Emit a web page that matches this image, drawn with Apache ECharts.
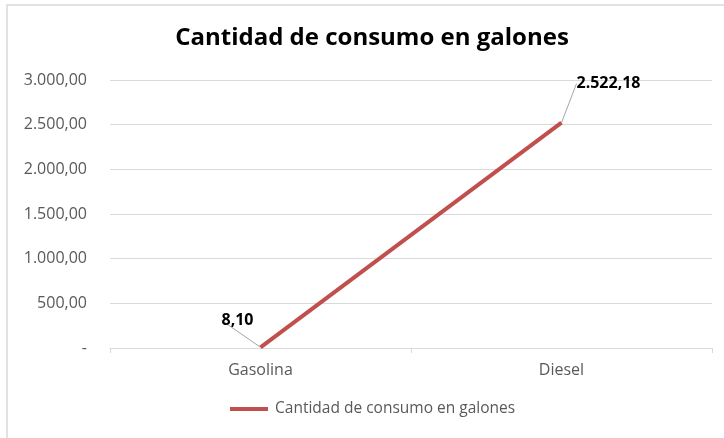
<!DOCTYPE html>
<html>
<head>
<meta charset="utf-8">
<script src="https://cdn.jsdelivr.net/npm/echarts@6/dist/echarts.min.js"></script>
<style>
  html, body { margin: 0; padding: 0; background: #ffffff; }
  #chart { width: 724px; height: 438px; }
</style>
</head>
<body>
<div id="chart"></div>
<script>
const categories = ['Gasolina', 'Diesel'];
const consumo = [8.10, 2522.18];
const seriesName = 'Cantidad de consumo en galones';

// formato es-ES: 2.522,18
const fmt = (v) => {
    if (v === 0) return '-';
    const parts = v.toFixed(2).split('.');
    parts[0] = parts[0].replace(/\B(?=(\d{3})+(?!\d))/g, '.');
    return parts.join(',');
};

const chart = echarts.init(document.getElementById('chart'));
const fontFamily = '"Open Sans", sans-serif';

chart.setOption({
    backgroundColor: '#ffffff',
    animation: false,
    textStyle: { fontFamily: fontFamily },
    title: {
        text: seriesName,
        left: 367,
        textAlign: 'center',
        top: 21,
        textStyle: { fontSize: 24, fontWeight: 'bold', color: '#000000', fontFamily: fontFamily }
    },
    graphic: [{
        type: 'rect',
        shape: { x: 7, y: 5, width: 760, height: 480 },
        style: { fill: 'none', stroke: '#d9d9d9', lineWidth: 1.5 },
        silent: true
    }],
    legend: {
        bottom: 16,
        left: 225,
        icon: 'rect',
        itemWidth: 38,
        itemHeight: 4,
        textStyle: { fontSize: 15.5, color: '#595959', padding: [0, 0, 0, 2] },
        data: [seriesName]
    },
    grid: { left: 110, right: 12, top: 80, bottom: 90 },
    xAxis: {
        type: 'category',
        data: categories,
        boundaryGap: true,
        axisLine: { lineStyle: { color: '#d9d9d9', width: 1 } },
        axisTick: { show: true, alignWithLabel: false, length: 5, lineStyle: { color: '#d9d9d9' } },
        axisLabel: { fontSize: 16, color: '#595959', margin: 14 }
    },
    yAxis: {
        type: 'value',
        min: 0,
        max: 3000,
        interval: 500,
        axisLine: { show: false },
        axisTick: { show: false },
        splitLine: { lineStyle: { color: '#d9d9d9', width: 1 } },
        axisLabel: { fontSize: 16, color: '#595959', margin: 23, formatter: fmt }
    },
    series: [{
        name: seriesName,
        type: 'line',
        data: consumo,
        symbol: 'circle',
        symbolSize: 0,
        showSymbol: true,
        lineStyle: { color: '#c0504d', width: 4 },
        itemStyle: { color: '#c0504d' },
        label: {
            show: true,
            position: 'top',
            distance: 5,
            fontSize: 16,
            fontWeight: 'bold',
            color: '#000000',
            formatter: (p) => fmt(p.value)
        },
        labelLine: {
            show: true,
            lineStyle: { color: '#a6a6a6', width: 1 }
        },
        labelLayout: (p) => p.dataIndex === 0
            ? { dx: -23, dy: -14 }
            : { dx: 47, dy: -26 }
    }]
});
</script>
</body>
</html>
